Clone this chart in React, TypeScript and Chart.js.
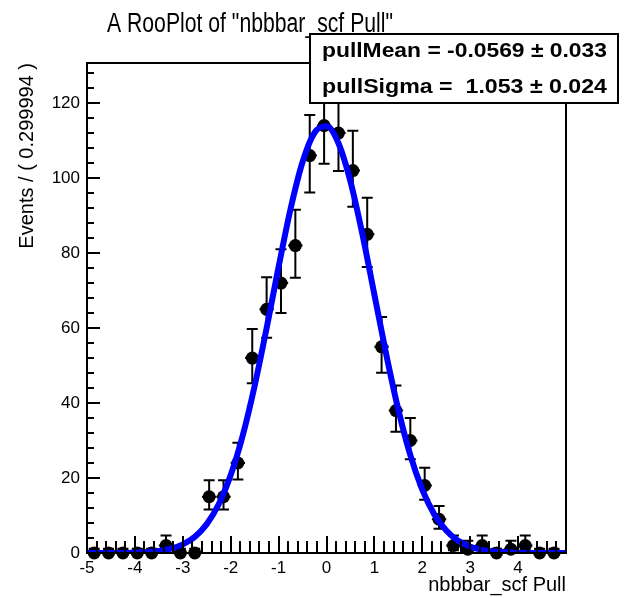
import React, { useEffect, useRef } from "react";
import { Chart, registerables } from "chart.js";

Chart.register(...registerables);

// ---- data ----
const binCenters = [
  -4.85, -4.55, -4.25, -3.95, -3.65, -3.35, -3.05, -2.75, -2.45, -2.15, -1.85,
  -1.55, -1.25, -0.95, -0.65, -0.35, -0.05, 0.25, 0.55, 0.85, 1.15, 1.45, 1.75,
  2.05, 2.35, 2.65, 2.95, 3.25, 3.55, 3.85, 4.15, 4.45, 4.75,
];
const counts = [
  0, 0, 0, 0, 0, 2, 0, 0, 15, 15, 24, 52, 65, 72, 82, 106, 114, 112, 102, 85,
  55, 38, 30, 18, 9, 2, 1, 2, 0, 1, 2, 0, 0,
];
const errLow = [
  0, 0, 0, 0, 0, 1.29, 0, 0, 3.41, 3.41, 4.42, 6.73, 7.58, 8.0, 8.57, 9.81,
  10.19, 10.1, 9.61, 8.73, 6.93, 5.68, 5.0, 3.77, 2.54, 1.29, 0.83, 1.29, 0,
  0.83, 1.29, 0, 0,
];
const errHigh = [
  1.15, 1.15, 1.15, 1.15, 1.15, 2.64, 1.15, 1.15, 4.41, 4.41, 5.42, 7.73, 8.58,
  9.0, 9.57, 10.81, 11.19, 11.1, 10.61, 9.73, 7.93, 6.68, 6.0, 4.77, 3.54, 2.64,
  2.3, 2.64, 1.15, 2.3, 2.64, 1.15, 1.15,
];
const curveX = [
  -5, -4.5, -4, -3.75, -3.5, -3.25, -3, -2.75, -2.5, -2.25, -2, -1.75, -1.5,
  -1.25, -1, -0.75, -0.5, -0.25, 0, 0.25, 0.5, 0.75, 1, 1.25, 1.5, 1.75, 2,
  2.25, 2.5, 2.75, 3, 3.25, 3.5, 4, 4.5, 5,
];
const curveY = [
  0, 0, 0.1, 0.24, 0.54, 1.14, 2.29, 4.3, 7.7, 13.0, 20.8, 31.3, 44.6, 60.0,
  76.3, 91.8, 104.3, 112.1, 113.8, 109.3, 99.1, 85.0, 68.9, 52.8, 38.2, 26.1,
  16.9, 10.3, 6.0, 3.26, 1.68, 0.82, 0.38, 0.07, 0, 0,
];
const xTickValues = [-5, -4, -3, -2, -1, 0, 1, 2, 3, 4, 5];
const xTickLabels = ["-5", "-4", "-3", "-2", "-1", "0", "1", "2", "3", "4", ""];
const yTickValues = [0, 20, 40, 60, 80, 100, 120];
const yTickLabels = ["0", "20", "40", "60", "80", "100", "120"];

const titleText = 'A RooPlot of "nbbbar_scf Pull"';
const xAxisTitle = "nbbbar_scf Pull";
const yAxisTitle = "Events / ( 0.299994 )";
const statRows = ["pullMean = -0.0569 \u00b1 0.033", "pullSigma =  1.053 \u00b1 0.024"];

const X_MIN = -5;
const X_MAX = 5;
const Y_MIN = 0;
const Y_MAX = 130.7;
const FONT = '"Liberation Sans", Arial, Helvetica, sans-serif';

const errorBarPlugin = {
  id: "errorBars",
  beforeDatasetsDraw(chart: any) {
    const { ctx } = chart;
    const x = chart.scales.x;
    const y = chart.scales.y;
    ctx.save();
    ctx.strokeStyle = "#000";
    ctx.lineWidth = 2;
    const cap = 5.5;
    binCenters.forEach((c, i) => {
      const px = x.getPixelForValue(c);
      const yl = y.getPixelForValue(counts[i] - errLow[i]);
      const yh = y.getPixelForValue(counts[i] + errHigh[i]);
      const py = y.getPixelForValue(counts[i]);
      const xl = x.getPixelForValue(c - 0.15);
      const xr = x.getPixelForValue(c + 0.15);
      ctx.beginPath();
      ctx.moveTo(px, yl);
      ctx.lineTo(px, yh);
      ctx.moveTo(px - cap, yl);
      ctx.lineTo(px + cap, yl);
      ctx.moveTo(px - cap, yh);
      ctx.lineTo(px + cap, yh);
      ctx.moveTo(xl, py);
      ctx.lineTo(xr, py);
      ctx.stroke();
    });
    ctx.restore();
  },
};

const framePlugin = {
  id: "frameTicks",
  afterDatasetsDraw(chart: any) {
    const { ctx, chartArea } = chart;
    const x = chart.scales.x;
    const y = chart.scales.y;
    ctx.save();
    ctx.strokeStyle = "#000";
    ctx.lineWidth = 2;
    ctx.strokeRect(
      chartArea.left,
      chartArea.top,
      chartArea.right - chartArea.left,
      chartArea.bottom - chartArea.top
    );
    ctx.beginPath();
    for (let v = Y_MIN; v <= Y_MAX; v += 4) {
      const py = Math.round(y.getPixelForValue(v));
      const len = v % 20 === 0 ? 13 : 7;
      ctx.moveTo(chartArea.left, py);
      ctx.lineTo(chartArea.left + len, py);
    }
    for (let k = 0; k <= 50; k++) {
      const v = X_MIN + k * 0.2;
      const px = Math.round(x.getPixelForValue(v));
      const len = k % 5 === 0 ? 17 : 12;
      ctx.moveTo(px, chartArea.bottom);
      ctx.lineTo(px, chartArea.bottom - len);
    }
    ctx.stroke();
    ctx.restore();
  },
};

const annotationPlugin = {
  id: "titleBox",
  afterDraw(chart: any) {
    const { ctx } = chart;
    ctx.save();
    ctx.fillStyle = "#000";
    ctx.textAlign = "left";
    ctx.textBaseline = "alphabetic";
    ctx.font = `27px ${FONT}`;
    const w = ctx.measureText(titleText).width;
    ctx.save();
    ctx.translate(107, 32);
    ctx.scale(286 / w, 1);
    ctx.fillText(titleText, 0, 0);
    ctx.restore();

    // stats box
    ctx.fillStyle = "#fff";
    ctx.fillRect(310, 34, 308, 69);
    ctx.strokeStyle = "#000";
    ctx.lineWidth = 2;
    ctx.strokeRect(310, 34, 308, 69);
    ctx.fillStyle = "#000";
    ctx.font = `bold 20px ${FONT}`;
    const baselines = [57, 93];
    statRows.forEach((t, i) => {
      const tw = ctx.measureText(t).width;
      ctx.save();
      ctx.translate(322, baselines[i]);
      ctx.scale(285 / tw, 1);
      ctx.fillText(t, 0, 0);
      ctx.restore();
    });
    ctx.restore();
  },
};

export default function App() {
  const canvasRef = useRef<HTMLCanvasElement | null>(null);

  useEffect(() => {
    if (!canvasRef.current) return;
    const points = binCenters.map((c, i) => ({ x: c, y: counts[i] }));
    const curve = curveX.map((c, i) => ({ x: c, y: curveY[i] }));
    const chart = new Chart(canvasRef.current, {
      type: "scatter",
      data: {
        datasets: [
          {
            type: "line",
            label: "fit",
            data: curve,
            borderColor: "rgb(0,0,255)",
            borderWidth: 6,
            pointRadius: 0,
            cubicInterpolationMode: "monotone",
            fill: false,
            order: 0,
          } as any,
          {
            type: "scatter",
            label: "data",
            data: points,
            pointRadius: 6.5,
            pointBackgroundColor: "#000",
            pointBorderColor: "#000",
            pointBorderWidth: 0,
            clip: false,
            order: 1,
          } as any,
        ],
      },
      options: {
        responsive: false,
        animation: false,
        layout: { padding: { top: 63, right: 61, left: 0, bottom: 0 } },
        plugins: {
          legend: { display: false },
          tooltip: { enabled: false },
          title: { display: false },
        },
        scales: {
          x: {
            type: "linear",
            min: X_MIN,
            max: X_MAX,
            afterFit: (s: any) => {
              s.height = 45;
            },
            grid: { display: false, drawTicks: false },
            border: { display: false },
            ticks: {
              stepSize: 1,
              includeBounds: false,
              padding: 5,
              color: "#000",
              font: { family: FONT, size: 17 },
              maxRotation: 0,
              autoSkip: false,
              callback: (v: any) => {
                const idx = xTickValues.indexOf(Number(v));
                return idx >= 0 ? xTickLabels[idx] : "";
              },
            },
            title: {
              display: true,
              text: xAxisTitle,
              align: "end",
              color: "#000",
              font: { family: FONT, size: 20 },
              padding: { top: 0, bottom: 1 },
            },
          },
          y: {
            type: "linear",
            min: Y_MIN,
            max: Y_MAX,
            afterFit: (s: any) => {
              s.width = 87;
            },
            grid: { display: false, drawTicks: false },
            border: { display: false },
            ticks: {
              stepSize: 20,
              includeBounds: false,
              padding: 7,
              color: "#000",
              font: { family: FONT, size: 17 },
              callback: (v: any) => {
                const idx = yTickValues.indexOf(Number(v));
                return idx >= 0 ? yTickLabels[idx] : "";
              },
            },
            title: {
              display: true,
              text: yAxisTitle,
              align: "end",
              color: "#000",
              font: { family: FONT, size: 20 },
              padding: { top: 15, bottom: 0 },
            },
          },
        },
      },
      plugins: [errorBarPlugin, framePlugin, annotationPlugin],
    });
    return () => chart.destroy();
  }, []);

  return (
    <div
      style={{
        position: "fixed",
        left: 0,
        top: 0,
        width: 627,
        height: 598,
        background: "#fff",
      }}
    >
      <canvas ref={canvasRef} width={627} height={598} />
    </div>
  );
}
